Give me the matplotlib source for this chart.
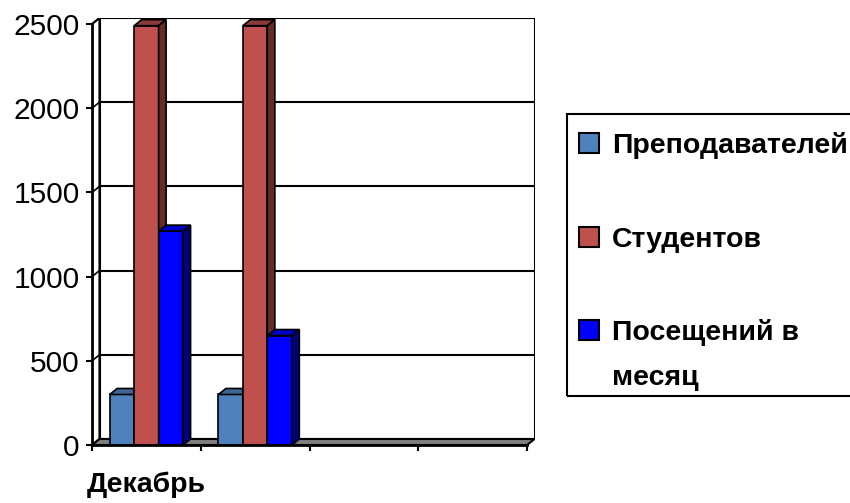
import matplotlib
matplotlib.use("Agg")
import matplotlib.pyplot as plt
from matplotlib.patches import Rectangle, Polygon
from matplotlib import font_manager

# ---------------- data ----------------
categories = ["Декабрь", "", "", ""]
series_names = ["Преподавателей", "Студентов", "Посещений в\nмесяц"]
teachers = [300, 300]
students = [2490, 2490]
visits = [1270, 650]
y_ticks = [0, 500, 1000, 1500, 2000, 2500]

front_colors = ["#4F81BD", "#C0504D", "#0000FF"]
top_colors = ["#3D6595", "#8C3A38", "#0000C8"]
side_colors = ["#2C4A6E", "#632C2B", "#00007A"]

names = {f.name for f in font_manager.fontManager.ttflist}
narrow_available = "Liberation Sans Narrow" in names
narrow = "Liberation Sans Narrow" if narrow_available else "Liberation Sans"
tick_size = 23 if narrow_available else 21.5
bold_font = "Liberation Sans" if "Liberation Sans" in names else "DejaVu Sans"

W, H = 850, 503
fig = plt.figure(figsize=(W / 100, H / 100), dpi=100)

# pixel geometry of the front plane and depth offset
x0, x1 = 92, 527
y0, y1 = 445, 24
dxp, dyp = 7.5, 6.0
ncat = len(categories)
ymax = y_ticks[-1]
ddx = dxp / (x1 - x0) * ncat
ddy = dyp / (y0 - y1) * ymax

ax = fig.add_axes([x0 / W, (H - y0) / H, (x1 + dxp - x0) / W, (y0 - (y1 - dyp)) / H])
ax.set_xlim(0, ncat + ddx)
ax.set_ylim(0, ymax + ddy)
ax.patch.set_visible(False)

# left wall
ax.add_patch(Polygon([(0, 0), (ddx, ddy), (ddx, ymax + ddy), (0, ymax)],
                     closed=True, facecolor="white", edgecolor="black", lw=1.5, zorder=0.5))
# back wall
ax.add_patch(Rectangle((ddx, ddy), ncat, ymax, facecolor="white",
                       edgecolor="black", lw=1.5, zorder=0.6))
for v in y_ticks[1:-1]:
    ax.plot([ddx, ncat + ddx], [v + ddy, v + ddy], color="black", lw=1.5, zorder=0.7)
for v in y_ticks[1:]:
    ax.plot([0, ddx], [v, v + ddy], color="black", lw=1.2, zorder=0.7)
# floor
ax.add_patch(Polygon([(0, 0), (ncat, 0), (ncat + ddx, ddy), (ddx, ddy)],
                     closed=True, facecolor="#808080", edgecolor="black", lw=1.5, zorder=0.8))

# bars
series = [teachers, students, visits]
bw = 0.225
z = 1.0
for c in range(len(teachers)):
    for i, vals in enumerate(series):
        h = vals[c]
        xl = c + 0.5 + (i - 1.5) * bw
        ax.add_patch(Rectangle((xl, 0), bw, h, facecolor=front_colors[i],
                               edgecolor="black", lw=1.2, zorder=z))
        ax.add_patch(Polygon([(xl, h), (xl + bw, h), (xl + bw + ddx, h + ddy), (xl + ddx, h + ddy)],
                             closed=True, facecolor=top_colors[i], edgecolor="black", lw=1.2, zorder=z))
        ax.add_patch(Polygon([(xl + bw, 0), (xl + bw + ddx, ddy), (xl + bw + ddx, h + ddy), (xl + bw, h)],
                             closed=True, facecolor=side_colors[i], edgecolor="black", lw=1.2, zorder=z))
        z += 0.01

# axes / spines
for s in ["top", "right"]:
    ax.spines[s].set_visible(False)
ax.spines["left"].set_bounds(0, ymax)
ax.spines["bottom"].set_bounds(0, ncat)
ax.spines["left"].set_linewidth(2)
ax.spines["bottom"].set_linewidth(2)
ax.spines["left"].set_zorder(5)
ax.spines["bottom"].set_zorder(5)

ax.set_yticks(y_ticks)
ax.set_yticklabels([str(v) for v in y_ticks], fontfamily=narrow, fontsize=tick_size)
ax.tick_params(axis="y", direction="out", length=4, width=1.5, pad=5)

ax.set_xticks(range(ncat + 1))
ax.set_xticklabels([""] * (ncat + 1))
ax.set_xticks([c + 0.5 for c in range(ncat)], minor=True)
ax.set_xticklabels(categories, minor=True, fontfamily=bold_font, fontweight="bold", fontsize=20.5)
ax.tick_params(axis="x", which="major", direction="out", length=4, width=1.5)
ax.tick_params(axis="x", which="minor", length=0, pad=19)

# legend (manual, Excel style)
fig.add_artist(Rectangle((567 / W, (H - 396) / H), (870 - 567) / W, (396 - 114) / H,
                         transform=fig.transFigure, fill=False, edgecolor="black", lw=1.5))
baselines = [153, 247, 340]
sq = 20
for i, name in enumerate(series_names):
    cy = baselines[i] - 10
    fig.add_artist(Rectangle((579 / W, (H - cy - sq / 2) / H), sq / W, sq / H,
                             transform=fig.transFigure, facecolor=front_colors[i],
                             edgecolor="black", lw=1.5))
    for j, line in enumerate(name.split("\n")):
        fig.text(612 / W, (H - baselines[i] - j * 45) / H, line, ha="left", va="baseline",
                 fontfamily=bold_font, fontweight="bold", fontsize=20.5)

fig.savefig("out.png", dpi=100)
